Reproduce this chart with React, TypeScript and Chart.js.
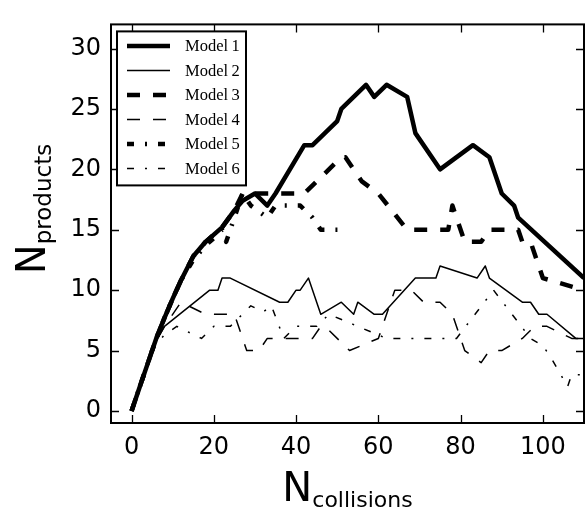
import React, { useEffect, useRef } from "react";
import { Chart, registerables } from "chart.js";

Chart.register(...registerables);

const seriesNames = ["Model\u20091", "Model\u20092", "Model\u20093", "Model\u20094", "Model\u20095", "Model\u20096"];

const model1X = [0, 2, 4, 6, 8, 10, 12, 15, 18, 20, 22, 25, 27, 30, 33, 35, 42, 44, 50, 51, 57, 59, 62, 67, 69, 75, 83, 87, 90, 93, 94, 110];
const model1Y = [0, 2, 4, 6, 7.7, 9.3, 10.8, 12.8, 14, 14.6, 15.2, 16.6, 17.4, 18, 17, 18, 22, 22, 24, 25, 27, 26, 27, 26, 23, 20, 22, 21, 18, 17, 16, 11];

const model2X = [0, 2, 4, 6, 8, 19, 21, 22, 24, 36, 38, 40, 41, 43, 46, 51, 54, 55, 59, 61, 69, 74, 75, 84, 86, 87, 95, 97, 99, 101, 108, 110];
const model2Y = [0, 2, 4, 5.8, 7, 10, 10, 11, 11, 9, 9, 10, 10, 11, 8, 9, 8, 9, 8, 8, 11, 11, 12, 11, 12, 11, 9, 9, 8, 8, 6, 6];

const model3X = [0, 2, 4, 6, 8, 10, 12, 15, 18, 20, 22, 25, 27, 42, 51, 52, 56, 60, 67, 77, 78, 81, 85, 87, 94, 95, 97, 99, 100, 110];
const model3Y = [0, 2, 4, 6, 7.7, 9.3, 10.8, 12.8, 14, 14.6, 15.2, 16.6, 18, 18, 21, 21, 19, 18, 15, 15, 17, 14, 14, 15, 15, 14, 14, 12, 11, 10];

const model4X = [0, 2, 4, 6, 8, 12, 18, 25, 28, 31, 33, 44, 46, 47, 53, 60, 64, 68, 71, 75, 78, 81, 85, 87, 90, 95, 98, 101, 107, 110];
const model4Y = [0, 2, 4, 5.8, 7, 9, 8, 8, 5, 5, 6, 6, 7, 7, 5, 6, 10, 10, 9, 9, 8, 5, 4, 5, 5, 6, 7, 7, 6, 6];

const model5X = [0, 2, 4, 6, 8, 10, 12, 15, 18, 20, 22, 23, 26, 27, 29, 33, 35, 41, 44, 46, 51];
const model5Y = [0, 2, 4, 6, 7.7, 9.3, 10.8, 12.5, 13.7, 14.3, 15, 14, 17, 18, 17, 16, 17, 17, 16, 15, 15];

const model6X = [0, 2, 4, 6, 8, 11, 17, 20, 24, 29, 32, 34, 37, 40, 45, 48, 62, 79, 88, 97, 100, 102, 106, 107, 110];
const model6Y = [0, 2, 4, 5.5, 6.3, 7, 6, 7, 7, 8.7, 8.2, 8.7, 6, 7, 7, 8, 6, 6, 10, 6, 5.4, 4.4, 2, 3, 3];

const xTicks = [0, 20, 40, 60, 80, 100];
const yTicks = [0, 5, 10, 15, 20, 25, 30];

const seriesX = [model1X, model2X, model3X, model4X, model5X, model6X];
const seriesY = [model1Y, model2Y, model3Y, model4Y, model5Y, model6Y];

const THICK = 4.5;
const THIN = 1.5;
const widths = [THICK, THIN, THICK, THIN, THICK, THIN];
const dashes: number[][] = [[], [], [13, 13], [13, 13], [7, 11, 2, 11], [7, 11, 2, 11]];

function drawSubText(ctx: CanvasRenderingContext2D, main: string, sub: string, mainSize: number, subSize: number, cx: number, baseY: number, drop: number) {
  ctx.font = `${mainSize}px "DejaVu Sans"`;
  const wm = ctx.measureText(main).width;
  ctx.font = `${subSize}px "DejaVu Sans"`;
  const ws = ctx.measureText(sub).width;
  const total = wm + ws;
  const x0 = cx - total / 2;
  ctx.textAlign = "left";
  ctx.textBaseline = "alphabetic";
  ctx.font = `${mainSize}px "DejaVu Sans"`;
  ctx.fillText(main, x0, baseY);
  ctx.font = `${subSize}px "DejaVu Sans"`;
  ctx.fillText(sub, x0 + wm, baseY + drop);
}

const decorPlugin = {
  id: "decor",
  afterDatasetsDraw(chart: any) {
    const { ctx, chartArea: a, scales } = chart;
    ctx.save();
    ctx.strokeStyle = "#000";
    ctx.fillStyle = "#000";
    ctx.setLineDash([]);
    // inward ticks on all four sides
    ctx.lineWidth = 1.3;
    const tl = 8;
    for (const v of xTicks) {
      const px = Math.round(scales.x.getPixelForValue(v)) + 0.5;
      ctx.beginPath();
      ctx.moveTo(px, a.bottom);
      ctx.lineTo(px, a.bottom - tl);
      ctx.moveTo(px, a.top);
      ctx.lineTo(px, a.top + tl);
      ctx.stroke();
    }
    for (const v of yTicks) {
      const py = Math.round(scales.y.getPixelForValue(v)) + 0.5;
      ctx.beginPath();
      ctx.moveTo(a.left, py);
      ctx.lineTo(a.left + tl, py);
      ctx.moveTo(a.right, py);
      ctx.lineTo(a.right - tl, py);
      ctx.stroke();
    }
    // frame
    ctx.lineWidth = 2;
    ctx.strokeRect(a.left, a.top, a.right - a.left, a.bottom - a.top);

    // legend
    const lx = a.left + 6;
    const ly = a.top + 7;
    const lw = 129;
    const lh = 154;
    ctx.fillStyle = "#fff";
    ctx.fillRect(lx, ly, lw, lh);
    ctx.lineWidth = 2;
    ctx.strokeStyle = "#000";
    ctx.strokeRect(lx, ly, lw, lh);
    ctx.fillStyle = "#000";
    ctx.font = '16.5px "Liberation Serif"';
    ctx.textAlign = "left";
    ctx.textBaseline = "middle";
    for (let i = 0; i < seriesNames.length; i++) {
      const ry = ly + 14.5 + i * 24.5;
      ctx.beginPath();
      ctx.lineWidth = widths[i];
      ctx.lineCap = "butt";
      ctx.setLineDash(dashes[i]);
      ctx.moveTo(lx + 10, ry);
      ctx.lineTo(lx + 53, ry);
      ctx.stroke();
      ctx.setLineDash([]);
      ctx.fillText(seriesNames[i], lx + 68, ry + 1);
    }

    // axis titles
    ctx.fillStyle = "#000";
    drawSubText(ctx, "N", "collisions", 40, 22, (a.left + a.right) / 2, 501, 6);
    ctx.translate(45, 209);
    ctx.rotate(-Math.PI / 2);
    drawSubText(ctx, "N", "products", 40, 23, 0, 0, 6);
    ctx.restore();
  },
};

export default function App() {
  const ref = useRef<HTMLCanvasElement | null>(null);
  useEffect(() => {
    if (!ref.current) return;
    const datasets = seriesNames.map((name, i) => ({
      label: name,
      data: seriesX[i].map((x, j) => ({ x, y: seriesY[i][j] })),
      borderColor: "#000",
      backgroundColor: "#000",
      borderWidth: widths[i],
      borderDash: dashes[i],
      borderCapStyle: "butt" as const,
      borderJoinStyle: "round" as const,
      pointRadius: 0,
      tension: 0,
      fill: false,
    }));
    const chart = new Chart(ref.current, {
      type: "line",
      data: { datasets },
      options: {
        responsive: false,
        animation: false,
        layout: { padding: { left: 0, right: 2, top: 10, bottom: 0 } },
        plugins: { legend: { display: false }, tooltip: { enabled: false } },
        scales: {
          x: {
            type: "linear",
            min: -5,
            max: 110,
            afterBuildTicks: (s: any) => {
              s.ticks = xTicks.map((v) => ({ value: v }));
            },
            afterFit: (s: any) => {
              s.height = 87;
            },
            ticks: { font: { family: "DejaVu Sans", size: 24 }, color: "#000", padding: 10, maxRotation: 0, autoSkip: false },
            grid: { display: false, drawTicks: false },
            border: { display: false },
          },
          y: {
            type: "linear",
            min: -1,
            max: 32,
            afterBuildTicks: (s: any) => {
              s.ticks = yTicks.map((v) => ({ value: v }));
            },
            afterFit: (s: any) => {
              s.width = 111;
            },
            ticks: { font: { family: "DejaVu Sans", size: 24 }, color: "#000", padding: 10, autoSkip: false },
            grid: { display: false, drawTicks: false },
            border: { display: false },
          },
        },
      },
      plugins: [decorPlugin],
    });
    return () => chart.destroy();
  }, []);
  return (
    <div style={{ position: "absolute", left: 0, top: 0, width: 586, height: 510, background: "#fff" }}>
      <canvas ref={ref} width={586} height={510} style={{ display: "block", width: 586, height: 510 }} />
    </div>
  );
}
